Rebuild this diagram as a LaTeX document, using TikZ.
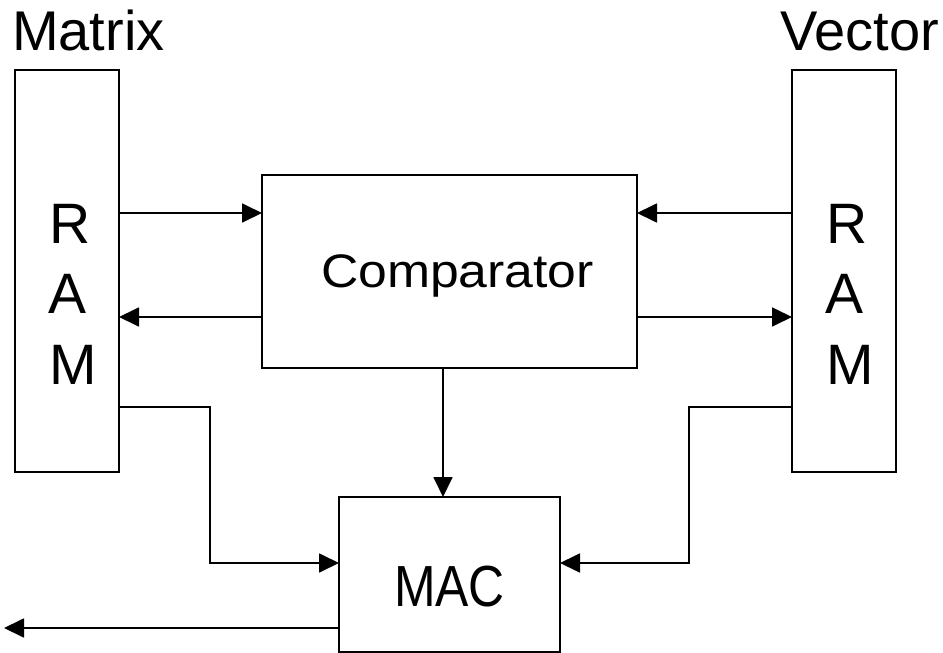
\documentclass[tikz,border=0pt]{standalone}
\usepackage{fontspec}
\setmainfont{Liberation Sans}
\usetikzlibrary{arrows.meta}
\begin{document}
\begin{tikzpicture}[x=1pt,y=-1pt,
  box/.style={draw,line width=1.8pt,rectangle,inner sep=0pt,outer sep=0pt},
  arr/.style={line width=1.8pt,-{Triangle[length=20pt,width=19pt]}},
  wire/.style={line width=1.8pt},
  big/.style={font=\fontsize{56}{60}\selectfont,inner sep=0pt},
  ramtxt/.style={font=\fontsize{57}{60}\selectfont,inner sep=0pt,anchor=base west},
  lbl/.style={font=\fontsize{47}{50}\selectfont,inner sep=0pt,anchor=base},
  maclbl/.style={font=\fontsize{58}{60}\selectfont,inner sep=0pt,anchor=base}]
\useasboundingbox (0,0) rectangle (943,653);
% boxes
\node[box,minimum width=104pt,minimum height=402pt] (lram) at (67,271) {};
\node[box,minimum width=104pt,minimum height=402pt] (rram) at (844,271) {};
\node[box,minimum width=375pt,minimum height=193pt] (comp) at (449.5,271.5) {};
\node[box,minimum width=221pt,minimum height=155pt] (mac) at (449.5,574.5) {};
% titles
\node[big,anchor=base west] (tmat) at (12,50) {Matrix};
\node[big,anchor=base west] (tvec) at (780,50) {Vector};
% RAM letters
\node[ramtxt] (lR) at (49,243) {R};
\node[ramtxt] (lA) at (48,313) {A};
\node[ramtxt] (lM) at (49,384) {M};
\node[ramtxt] (rR) at (826,243) {R};
\node[ramtxt] (rA) at (825,313) {A};
\node[ramtxt] (rM) at (826,384) {M};
% labels
\node[lbl] (tcomp) at (457.5,287) {\scalebox{1.1}[1]{Comparator}};
\node[maclbl] (tmac) at (449.5,606) {\scalebox{0.86}[1]{MAC}};
% connectors
\draw[arr] (lram.east |- 0,213) -- (comp.west |- 0,213);
\draw[arr] (comp.west |- 0,317) -- (lram.east |- 0,317);
\draw[arr] (rram.west |- 0,213) -- (comp.east |- 0,213);
\draw[arr] (comp.east |- 0,317) -- (rram.west |- 0,317);
\draw[arr] (lram.east |- 0,407) -- (210,407) -- (210,563) -- (mac.west |- 0,563);
\draw[arr] (rram.west |- 0,407) -- (689,407) -- (689,563) -- (mac.east |- 0,563);
\draw[arr] (comp.south -| 443,0) -- (mac.north -| 443,0);
\coordinate (out) at (4,628);
\draw[arr] (mac.west |- out) -- (out);
\end{tikzpicture}
\end{document}
